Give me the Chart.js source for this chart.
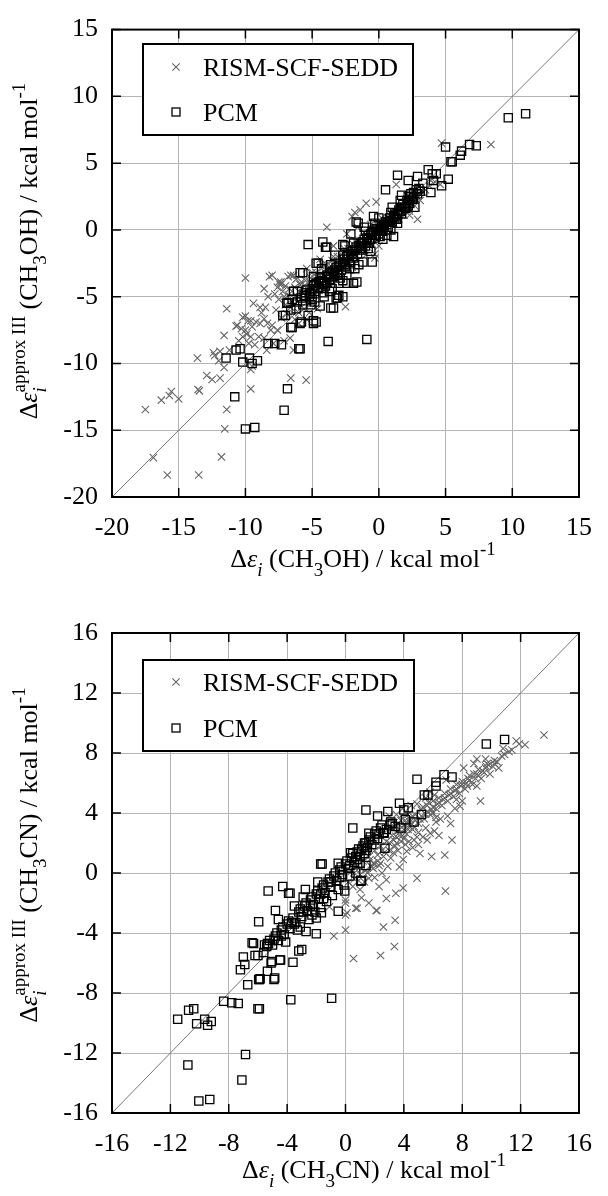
<!DOCTYPE html>
<html>
<head>
<meta charset="utf-8">
<script src="https://cdn.jsdelivr.net/npm/chart.js@4.4.1/dist/chart.umd.min.js"></script>
<style>
body { margin: 0; background: #fff; font-family: "Liberation Serif", serif; }
.box { width: 608px; height: 598px; position: relative; }
</style>
</head>
<body>
<div class="box"><canvas id="ch3oh" width="608" height="598"></canvas></div>
<div class="box"><canvas id="ch3cn" width="608" height="598"></canvas></div>
<script>
// Axis ranges / ticks
const ch3ohRange = [-20, 15];
const ch3ohStep = 5;
const ch3cnRange = [-16, 16];
const ch3cnStep = 4;

const seriesNames = ['RISM-SCF-SEDD', 'PCM'];

// CH3OH panel: [x, y] pairs
const ch3ohPcm = [
  [11.0,8.7],[9.7,8.4],[7.3,6.3],[6.8,6.4],[6.2,5.9],[6.1,5.6],[5.5,5.1],[5.4,5.1],[5.0,6.2],[5.2,3.8],
  [4.7,3.3],[4.3,4.2],[4.0,4.2],[3.7,4.5],[4.1,3.7],[3.9,2.8],[1.4,4.1],[0.5,3.0],[2.2,3.7],[2.9,4.0],
  [3.3,3.5],[2.4,2.5],[2.6,2.8],[2.8,3.0],[3.0,3.1],[2.5,2.3],[2.7,1.7],[1.7,2.6],[1.6,2.2],[1.0,1.7],
  [0.9,1.3],[1.4,0.5],[1.1,-0.5],[0.4,0.4],[0.1,-0.5],[-0.6,-0.7],[-1.55,0.5],[-1.7,0.6],[-0.5,-2.4],[-1.9,-4.0],
  [-5.3,-1.1],[-4.2,-0.9],[-3.9,-1.3],[-4.0,-1.3],[-2.7,-1.1],[-2.55,-1.2],[-4.7,-2.5],[-5.9,-3.2],[-6.4,-4.6],[-3.2,-5.1],
  [-2.7,-3.8],[-1.8,-2.9],[-0.9,-8.2],[-3.8,-8.35],[-3.6,-5.85],[-4.4,-5.7],[-3.1,-5.1],[-3.0,-4.9],[-6.9,-5.5],[-7.2,-6.4],
  [-6.6,-7.3],[-5.9,-7.0],[-5.8,-6.9],[-5.3,-6.4],[-4.9,-6.8],[-4.9,-7.0],[-6.1,-5.4],[-5.5,-5.3],[-5.2,-4.7],[-5.0,-5.2],
  [-7.3,-8.6],[-7.8,-8.5],[-8.3,-8.5],[-5.9,-8.9],[-6.0,-8.9],[-10.4,-8.9],[-10.7,-9.0],[-11.45,-9.6],[-10.2,-9.9],[-9.7,-9.6],
  [-9.5,-10.0],[-9.1,-9.8],[-10.8,-12.5],[-6.85,-11.9],[-7.1,-13.5],[-10.0,-14.9],[-9.3,-14.8],
  [-5.6,-4.9],[-5.4,-4.5],[-5.2,-5.0],[-5.0,-4.4],[-4.8,-4.6],[-4.7,-4.0],[-4.5,-4.3],[-4.4,-3.6],[-4.2,-3.9],[-4.0,-4.2],
  [-3.9,-3.4],[-3.7,-3.7],[-3.5,-3.1],[-3.4,-3.5],[-3.2,-2.8],[-3.1,-3.3],[-2.9,-2.5],[-2.8,-3.0],[-2.6,-2.2],[-2.5,-2.7],
  [-2.3,-1.9],[-2.2,-2.4],[-2.0,-1.6],[-1.9,-2.1],[-1.7,-1.3],[-1.6,-1.8],[-1.4,-1.0],[-1.3,-1.5],[-1.1,-0.7],[-1.0,-1.2],
  [-0.8,-0.4],[-0.7,-1.0],[-0.5,-0.2],[-0.3,-0.6],[-0.2,0.1],[0.0,-0.3],[0.2,0.3],[0.3,-0.1],[0.5,0.6],[0.7,0.2],
  [0.8,0.9],[1.0,0.6],[1.2,1.2],[1.3,0.8],[1.5,1.5],[1.7,1.2],[1.8,1.9],[2.0,1.6],[2.1,2.2],[2.3,2.0],
  [-3.0,-4.0],[-2.4,-3.4],[-1.2,-2.4],[-0.6,-1.6],[0.6,-0.4],[-2.1,-0.3],[-3.3,-1.9],[-4.3,-2.9],[-4.9,-3.5],[-5.7,-5.6],
  [-6.2,-5.9],[-6.5,-5.2],[-5.7,-3.2],[-6.1,-4.6],[-6.8,-5.45],[-6.6,-6.0],[-7.0,-6.4],[-6.5,-7.3],[-4.7,-6.9],[-3.4,-5.85],
  [-2.4,-4.0],[-1.65,-3.9],[-4.55,-2.5],[-2.7,-5.0],
  [-5.8,-5.1],[-5.5,-4.7],[-5.1,-4.8],[-4.9,-4.2],[-4.6,-4.4],[-4.3,-3.8],[-4.1,-4.0],[-3.8,-3.5],[-3.6,-3.3],[-3.3,-3.0],
  [-3.0,-2.7],[-2.7,-2.4],[-2.4,-2.0],[-2.1,-1.8],[-1.8,-1.5],[-1.5,-1.2],[-1.2,-0.9],[-0.9,-0.6],[-0.6,-0.3],[-0.4,-0.1],
  [-0.1,0.0],[0.1,0.1],[0.4,0.2],[0.6,0.4],[0.9,0.7],[1.1,1.0],[1.4,1.2],[1.6,1.4],[1.9,1.7],[2.2,2.5],
  [2.4,2.7],[2.6,2.4],[2.9,2.7],[3.1,2.9],[-3.5,-4.4],[-1.5,-2.6],[-0.8,-1.4],[0.3,-0.7],[0.9,0.0],[-4.1,-5.0],
  [-2.2,-2.9],[-0.4,1.0],[-1.1,0.2],[-2.7,-1.9],
  [-4.5,-3.9],[-3.9,-3.9],[-3.3,-3.2],[-2.6,-2.6],[-2.0,-2.0],[-1.4,-1.4],[-0.9,-0.9],[-0.2,-0.4],[0.2,-0.1],[0.7,0.6],
  [1.2,0.9],[1.7,1.7],[2.2,1.8],[-4.8,-5.4],[-4.2,-4.7],[-3.7,-4.6],[-5.1,-5.6],[-1.0,-0.1],[-0.3,0.5],[0.0,0.9],
  [-2.9,-3.6],[-3.6,-2.6],[-1.9,-1.0]
];
const ch3ohRism = [
  [-10.0,-3.6],[-8.0,-3.4],[-7.3,-4.05],[-7.35,-3.9],[-6.6,-3.4],[-3.9,0.2],[4.7,6.5],[8.4,6.4],[2.9,0.8],[2.3,1.1],
  [1.3,3.4],[-0.95,2.0],[-0.2,2.1],[-1.8,1.3],[-2.0,1.0],[-1.4,1.5],[-0.3,-1.8],[-0.3,-2.1],[-2.4,-2.4],[-4.2,-3.6],
  [-11.4,-5.9],[-11.6,-7.9],[-13.6,-9.6],[-12.4,-9.2],[-12.3,-9.4],[-12.9,-10.9],[-12.5,-11.2],[-11.9,-11.1],[-11.6,-10.3],[-13.55,-11.95],
  [-13.45,-12.05],[-15.55,-12.1],[-15.7,-12.4],[-16.3,-12.75],[-15.0,-12.65],[-17.5,-13.45],[-11.4,-13.45],[-11.55,-14.9],[-11.8,-17.0],[-16.9,-17.05],
  [-15.85,-18.35],[-13.5,-18.35],[-9.6,-11.9],[-9.6,-10.45],[-9.5,-10.2],[-6.6,-11.1],[-5.45,-11.25],[-2.5,-5.75],[-10.0,-6.45],[-9.8,-6.8],
  [-10.6,-7.15],[-10.3,-7.4],[-10.0,-7.5],[-9.5,-7.25],[-10.2,-8.0],[-9.6,-8.0],[-9.75,-8.5],[-8.9,-5.8],[-8.5,-5.8],[-8.6,-6.65],
  [-8.35,-7.0],[-8.9,-7.0],[-8.0,-7.15],[-8.1,-7.5],[-9.0,-8.0],[-8.6,-8.1],[-9.3,-8.6],[-6.65,-8.1],[-7.1,-8.3],[-7.9,-8.5],
  [-6.4,-9.0],[-11.9,-9.1],[-10.2,-6.55],[-10.7,-7.2],[-9.6,-6.8],[-8.2,-3.5],[-7.5,-3.9],[-6.8,-3.5],[-7.4,-4.1],[-6.4,-3.4],
  [-7.8,-4.8],[-7.5,-5.2],[-7.2,-4.6],[-7.0,-5.6],[-6.8,-4.9],[-6.5,-5.4],[-6.3,-4.3],[-6.1,-5.0],[-5.9,-4.1],[-5.7,-4.7],
  [-5.5,-3.8],[-5.3,-4.4],[-5.1,-3.6],[-4.9,-4.1],[-4.7,-3.2],[-4.5,-3.8],[-4.3,-2.9],[-4.1,-3.4],[-3.9,-2.6],[-3.7,-3.1],
  [-3.5,-2.3],[-3.3,-2.8],[-3.1,-2.0],[-2.9,-2.5],[-2.7,-1.7],[-2.5,-2.2],[-2.3,-1.4],[-2.1,-1.9],[-1.9,-1.1],[-1.7,-1.6],
  [-1.5,-0.8],[-1.3,-1.3],[-1.1,-0.5],[-0.9,-1.0],[-0.7,-0.2],[-0.5,-0.7],[-0.3,0.1],[-0.1,-0.4],[0.1,0.4],[0.3,-0.1],
  [0.5,0.7],[0.7,0.2],[0.9,1.0],[1.1,0.5],[1.3,1.3],[1.5,0.8],[1.7,1.6],[1.9,1.1],[2.1,1.9],[2.3,1.4],
  [2.5,2.2],[2.7,1.8],[2.9,2.5],[3.1,2.2],[3.3,2.8],[3.5,3.0],[3.8,3.3],[4.2,3.6],[-6.0,-6.2],[-5.0,-5.5],
  [-4.0,-4.5],[-3.0,-3.5],[-2.0,-2.8],[-1.0,-1.9],[0.0,-1.2],[-6.3,-6.7],[-5.6,-5.9],[-2.4,-0.3],[-1.6,0.2],[-3.4,-1.2],
  [-4.4,-2.2],[-5.4,-2.9],[-6.2,-3.7],[-7.0,-4.2],[-7.7,-6.0],[-8.3,-5.0],[-6.9,-6.3],[-5.4,-6.7],[-4.6,-5.9],[4.6,3.4],
  [3.9,3.7],[2.0,2.0],
  [-7.6,-4.3],[-7.1,-5.0],[-6.7,-4.4],[-6.4,-5.1],[-6.0,-4.6],[-5.6,-4.2],[-5.2,-3.9],[-4.8,-3.7],[-4.4,-3.4],[-4.0,-3.0],
  [-3.6,-2.7],[-3.2,-2.4],[-2.8,-2.1],[-2.4,-1.8],[-2.0,-1.4],[-1.6,-1.1],[-1.2,-0.8],[-0.8,-0.5],[-0.4,-0.1],[0.0,0.2],
  [0.4,0.6],[0.8,0.7],[1.2,1.0],[1.6,1.4],[2.0,1.7],[2.4,1.9],[2.8,2.3],[-8.8,-6.2],[-9.2,-6.9],[-9.9,-7.8],
  [-10.5,-8.3],[-11.2,-9.0],[-12.0,-9.8],[-8.4,-9.0],[-7.6,-7.5],[-6.0,-7.0],[-5.2,-6.2],
  [-5.8,-3.9],[-5.0,-3.2],[-4.2,-2.6],[-3.4,-2.0],[-2.6,-1.4],[-1.8,-0.8],[-1.0,-0.3],[-0.6,0.4],[0.2,0.9],[1.0,1.4],
  [-8.6,-4.4],[-9.4,-5.5],[-7.3,-6.6],[-6.6,-5.8],[-3.8,-4.0],[-2.2,-2.6]
];

// CH3CN panel
const ch3cnPcm = [
  [10.9,8.9],[9.65,8.6],[7.3,6.4],[6.75,6.55],[6.2,6.05],[6.2,5.8],[5.65,5.2],[5.4,5.2],[4.9,6.25],[5.2,3.9],
  [4.7,3.4],[4.3,4.35],[4.0,4.2],[3.7,4.65],[2.9,4.1],[2.2,3.8],[1.4,4.2],[0.5,3.0],[4.1,3.55],[3.8,3.0],
  [3.05,3.2],[3.2,3.3],[2.65,2.65],[2.0,2.2],[2.7,1.65],[1.6,2.65],[1.4,2.0],[1.1,1.6],[1.3,1.3],[0.7,1.1],
  [1.4,0.5],[1.0,0.65],[1.1,-0.5],[-1.6,0.6],[-1.7,0.6],[-0.5,0.65],[0.35,1.35],[-4.3,-0.9],[-5.3,-1.2],[-3.8,-1.35],
  [-2.75,-1.1],[-3.9,-1.35],[-0.95,-8.35],[-3.75,-8.45],[-3.6,-5.95],[-4.45,-5.8],[-3.0,-5.1],[-3.2,-5.2],[-4.85,-7.0],[-4.9,-7.1],
  [-5.35,-6.55],[-5.85,-7.05],[-5.95,-7.1],[-5.1,-6.0],[-5.05,-5.9],[-5.55,-4.8],[-5.35,-4.7],[-6.0,-5.5],[-6.2,-5.5],[-6.4,-4.65],
  [-6.7,-7.45],[-7.0,-5.6],[-6.9,-6.1],[-7.2,-6.45],[-5.95,-3.25],[-4.8,-2.5],[-2.0,-4.05],[-2.7,-3.9],[-0.5,-2.55],[-1.65,-2.65],
  [-2.0,-3.0],[-0.05,-1.2],[1.05,-0.55],[-8.35,-8.55],[-7.8,-8.65],[-7.35,-8.7],[-5.9,-9.05],[-6.0,-9.05],[-10.4,-9.05],[-10.75,-9.15],
  [-11.5,-9.75],[-9.65,-9.75],[-10.2,-10.05],[-9.2,-9.9],[-9.45,-10.15],[-6.85,-12.1],[-10.8,-12.8],[-7.1,-13.8],[-10.05,-15.2],[-9.3,-15.1],
  [-5.4,-4.9],[-5.2,-4.5],[-5.0,-4.8],[-4.8,-4.2],[-4.6,-4.5],[-4.4,-3.8],[-4.2,-4.1],[-4.0,-3.4],[-3.8,-3.7],[-3.6,-3.0],
  [-3.4,-3.3],[-3.2,-2.6],[-3.0,-2.9],[-2.8,-2.2],[-2.6,-2.5],[-2.4,-1.8],[-2.2,-2.1],[-2.0,-1.4],[-1.8,-1.7],[-1.6,-1.0],
  [-1.4,-1.3],[-1.2,-0.6],[-1.0,-0.9],[-0.8,-0.2],[-0.6,-0.5],[-0.4,0.2],[-0.2,-0.1],[0.0,0.6],[0.2,0.3],[0.4,1.0],
  [0.6,0.7],[0.8,1.4],[1.0,1.1],[1.2,1.8],[1.4,1.5],[1.6,2.2],[1.8,1.9],[2.0,2.6],[2.2,2.3],[2.4,3.0],
  [2.6,2.7],[-4.1,-4.6],[-3.3,-3.8],[-2.5,-3.1],[-1.7,-2.3],[-0.9,-1.5],[-0.1,-0.8],[0.7,0.0],[-2.9,-1.6],[-1.9,-0.6],
  [-4.6,-3.1],[-3.5,-2.2],[-6.3,-4.7],[-5.9,-7.1],[-4.5,-5.8],
  [-5.6,-5.3],[-5.3,-4.7],[-4.9,-4.4],[-4.7,-4.0],[-4.3,-3.6],[-3.9,-3.2],[-3.7,-3.3],[-3.1,-2.4],[-2.7,-2.0],[-2.3,-1.6],
  [-1.9,-1.2],[-1.5,-0.8],[-1.1,-0.4],[-0.7,0.0],[-0.3,0.4],[0.1,0.8],[0.5,1.3],[0.9,1.6],[1.3,2.0],[1.7,2.4],
  [2.1,2.8],[2.5,3.2],[2.8,2.9],[3.1,3.4],[3.4,3.1],[-2.1,-2.6],[-1.3,-1.9],[-0.5,-1.1],[0.3,-0.2],
  [-4.4,-4.2],[-3.5,-3.4],[-2.9,-2.6],[-2.4,-2.2],[-1.7,-1.4],[-1.0,-0.6],[-0.4,-0.3],[0.3,0.5],[0.8,0.9],[1.5,1.7],
  [2.3,2.6],[-3.1,-3.6],[-2.3,-2.8],[-1.5,-1.7]
];
const ch3cnRism = [
  [13.6,9.2],[12.3,8.55],[11.7,8.8],[11.2,8.1],[10.7,7.8],[10.2,7.3],[9.65,7.1],[9.5,6.7],[9.1,6.9],[8.8,6.6],
  [8.5,6.5],[9.25,4.8],[9.0,5.8],[8.35,5.8],[7.85,4.45],[7.6,4.9],[7.2,3.3],[7.3,2.2],[6.8,1.2],[6.0,4.0],
  [6.2,3.7],[5.8,2.65],[5.6,2.2],[5.0,2.7],[5.1,1.3],[5.9,1.1],[4.7,2.2],[4.9,-0.35],[4.35,2.1],[4.2,1.45],
  [3.95,0.9],[3.7,2.9],[3.45,2.45],[3.3,1.35],[2.9,0.45],[2.4,0.65],[1.9,0.65],[1.75,0.45],[2.5,0.0],[2.8,-0.45],
  [2.3,-0.9],[1.6,-0.35],[1.0,-1.1],[6.85,-1.2],[3.95,-1.0],[3.45,-1.35],[2.8,-1.7],[2.15,-2.5],[1.6,-2.0],[1.1,-1.65],
  [0.7,-2.35],[3.4,-3.15],[2.6,-3.6],[0.0,-3.8],[-0.8,-4.2],[3.35,-4.9],[2.4,-5.5],[0.55,-5.7],[0.0,-2.0],[0.0,-1.8],
  [0.1,-2.65],[-1.1,-2.25],[0.0,-2.8],[0.8,-2.35],[2.1,-2.5],
  [0.2,-0.6],[0.4,0.1],[0.6,-0.4],[0.8,0.5],[1.0,-0.1],[1.2,0.8],[1.4,0.2],[1.6,1.1],[1.8,0.4],[2.0,1.5],
  [2.2,0.8],[2.4,1.8],[2.6,1.1],[2.8,2.1],[3.0,1.5],[3.2,2.5],[3.4,1.8],[3.6,2.8],[3.8,2.1],[4.0,3.2],
  [4.2,2.6],[4.4,3.6],[4.6,2.9],[4.8,3.9],[5.0,3.3],[5.2,4.2],[5.4,3.6],[5.6,4.5],[5.8,3.9],[6.0,4.8],
  [6.2,4.3],[6.4,5.0],[6.6,4.5],[6.8,5.3],[7.0,4.8],[7.2,5.6],[7.4,5.1],[7.6,5.9],[7.8,5.3],[8.0,6.1],
  [8.2,5.6],[8.4,6.3],[8.7,5.9],[9.0,6.6],[9.3,6.3],[9.6,7.0],[9.9,6.6],[10.2,7.5],[10.5,7.0],[10.9,7.9],
  [11.4,8.2],[3.0,3.8],[3.5,3.9],[4.5,4.5],[5.5,5.0],[4.1,1.9],[5.3,2.4],[6.5,3.6],[7.5,4.3],[2.0,-0.3],
  [1.3,-0.6],[3.7,0.4],[4.6,1.7],[6.1,2.8],[3.9,4.3],[4.3,3.9],[4.9,4.6],[5.8,5.4],[6.9,6.2],[8.1,7.0],
  [9.0,7.6],[8.8,7.3],[9.6,7.6],
  [0.5,-0.9],[0.9,-0.5],[1.5,0.0],[1.9,0.3],[2.3,0.5],[2.7,1.4],[3.1,1.0],[3.5,2.0],[3.9,2.5],[4.1,3.5],
  [4.3,2.9],[4.7,3.1],[5.1,3.6],[5.5,3.9],[5.9,4.2],[6.3,4.6],[6.7,4.9],[7.1,5.2],[7.5,5.5],[7.9,5.8],
  [8.3,6.0],[8.9,6.3],[9.4,6.8],[9.8,7.2],[10.4,7.4],[10.8,8.3],[11.9,8.6],[4.4,3.4],[4.5,3.3],[4.2,3.3],
  [5.7,4.7],[6.1,5.2],[3.6,3.3],[4.0,2.3],[5.0,1.9],[6.4,2.5],[8.0,4.8],[7.0,3.8],
  [2.0,0.6],[2.5,1.5],[3.0,2.0],[3.3,2.2],[3.7,2.5],[4.0,2.9],[4.4,3.1],[4.8,3.5],[5.2,3.8],[5.6,4.1],
  [6.0,4.4],[6.4,4.7],[6.8,5.0],[7.2,5.3],[7.6,5.6],[8.0,5.9],[8.5,6.2],[9.1,6.5],[9.7,7.3],[10.1,7.1],
  [3.2,3.0],[3.8,3.5],[4.6,3.8],[5.3,4.4],[2.2,1.2],[1.7,0.9],[1.1,0.3],[0.6,0.0],[4.9,2.4],[5.5,3.0],
  [6.2,3.4],[3.6,1.5]
];

const SERIF = '"Liberation Serif", "Times New Roman", serif';
const BASE = 26;

// rich text: segments with italic / sub / sup, "stack" puts a segment over the previous one
function segFont(s) {
  const size = (s.sub || s.sup) ? 19 : BASE;
  return (s.it ? 'italic ' : '') + size + 'px ' + SERIF;
}
function drawRich(ctx, segs, x, y, rot) {
  ctx.save();
  ctx.translate(x, y);
  ctx.rotate(rot);
  ctx.fillStyle = '#000';
  ctx.textBaseline = 'alphabetic';
  ctx.textAlign = 'left';
  let pos = 0, prevStart = 0;
  const placed = segs.map(s => {
    ctx.font = segFont(s);
    const w = ctx.measureText(s.t).width;
    let start;
    if (s.stack) { start = prevStart; pos = Math.max(pos, start + w); }
    else { start = pos; pos += w; }
    prevStart = start;
    return { s, start };
  });
  placed.forEach(({ s, start }) => {
    ctx.font = segFont(s);
    const dy = s.sub ? 9 : s.sup ? -12 : 0;
    ctx.fillText(s.t, start - pos / 2, dy);
  });
  ctx.restore();
}

function drawCross(ctx, x, y, h) {
  ctx.beginPath();
  ctx.moveTo(x - h, y - h); ctx.lineTo(x + h, y + h);
  ctx.moveTo(x - h, y + h); ctx.lineTo(x + h, y - h);
  ctx.stroke();
}

// frame with mirrored inner ticks, legend box and axis titles
const decorPlugin = {
  id: 'decor',
  afterDatasetsDraw(chart, args, o) {
    const { ctx, chartArea: a, scales: { x, y } } = chart;
    ctx.save();
    ctx.strokeStyle = '#000';
    ctx.lineWidth = 1.5;
    ctx.beginPath();
    x.ticks.forEach(t => {
      const px = x.getPixelForValue(t.value);
      ctx.moveTo(px, a.bottom); ctx.lineTo(px, a.bottom - 9);
      ctx.moveTo(px, a.top); ctx.lineTo(px, a.top + 9);
    });
    y.ticks.forEach(t => {
      const py = y.getPixelForValue(t.value);
      ctx.moveTo(a.left, py); ctx.lineTo(a.left + 9, py);
      ctx.moveTo(a.right, py); ctx.lineTo(a.right - 9, py);
    });
    ctx.stroke();
    ctx.lineWidth = 2;
    ctx.strokeRect(a.left, a.top, a.right - a.left, a.bottom - a.top);

    // legend
    const L = o.legend;
    ctx.fillStyle = '#fff';
    ctx.fillRect(L.x, L.y, L.w, L.h);
    ctx.strokeRect(L.x, L.y, L.w, L.h);
    ctx.fillStyle = '#000';
    ctx.font = BASE + 'px ' + SERIF;
    ctx.textBaseline = 'alphabetic';
    ctx.textAlign = 'left';
    ctx.strokeStyle = '#666';
    ctx.lineWidth = 1.1;
    drawCross(ctx, L.x + 33, L.y + L.row1, 3.7);
    ctx.strokeStyle = '#000';
    ctx.lineWidth = 1.3;
    ctx.strokeRect(L.x + 29, L.y + L.row2 - 4, 8, 8);
    ctx.fillText(seriesNames[0], L.x + 60, L.y + L.row1 + 9);
    ctx.fillText(seriesNames[1], L.x + 60, L.y + L.row2 + 9);

    drawRich(ctx, o.xTitle, o.xTitleAt[0], o.xTitleAt[1], 0);
    drawRich(ctx, o.yTitle, o.yTitleAt[0], o.yTitleAt[1], -Math.PI / 2);
    ctx.restore();
  }
};

function makeChart(id, pcm, rism, range, step, pad, xHeight, decor) {
  const diag = [{ x: range[0], y: range[0] }, { x: range[1], y: range[1] }];
  const tickFont = { family: SERIF, size: BASE };
  return new Chart(document.getElementById(id), {
    type: 'scatter',
    data: {
      datasets: [
        {
          label: seriesNames[1],
          data: pcm.map(p => ({ x: p[0], y: p[1] })),
          pointStyle: 'rect',
          pointRadius: 5.8,
          borderColor: '#000',
          backgroundColor: 'rgba(0,0,0,0)',
          borderWidth: 1.3
        },
        {
          label: seriesNames[0],
          data: rism.map(p => ({ x: p[0], y: p[1] })),
          pointStyle: 'crossRot',
          pointRadius: 5.2,
          borderColor: '#666',
          backgroundColor: 'rgba(0,0,0,0)',
          borderWidth: 1.1
        },
        {
          type: 'line',
          data: diag,
          borderColor: '#777',
          borderWidth: 1,
          pointRadius: 0,
          fill: false
        }
      ]
    },
    options: {
      responsive: false,
      animation: false,
      events: [],
      layout: { padding: pad },
      plugins: {
        legend: { display: false },
        tooltip: { enabled: false },
        decor: decor
      },
      scales: {
        x: {
          type: 'linear',
          min: range[0], max: range[1],
          ticks: { stepSize: step, font: tickFont, color: '#000', padding: 16, maxRotation: 0 },
          grid: { color: '#b4b4b4', lineWidth: 1, drawTicks: false },
          border: { display: false },
          afterFit: s => { s.height = xHeight; }
        },
        y: {
          type: 'linear',
          min: range[0], max: range[1],
          ticks: { stepSize: step, font: tickFont, color: '#000', padding: 14 },
          grid: { color: '#b4b4b4', lineWidth: 1, drawTicks: false },
          border: { display: false },
          afterFit: s => { s.width = 112; }
        }
      }
    },
    plugins: [decorPlugin]
  });
}

const ch3ohX = [{ t: 'Δ' }, { t: 'ε', it: true }, { t: 'i', it: true, sub: true }, { t: ' (CH' }, { t: '3', sub: true }, { t: 'OH) / kcal mol' }, { t: '-1', sup: true }];
const ch3ohY = [{ t: 'Δ' }, { t: 'ε', it: true }, { t: 'i', it: true, sub: true }, { t: 'approx III', sup: true, stack: true }, { t: ' (CH' }, { t: '3', sub: true }, { t: 'OH) / kcal mol' }, { t: '-1', sup: true }];
const ch3cnX = [{ t: 'Δ' }, { t: 'ε', it: true }, { t: 'i', it: true, sub: true }, { t: ' (CH' }, { t: '3', sub: true }, { t: 'CN) / kcal mol' }, { t: '-1', sup: true }];
const ch3cnY = [{ t: 'Δ' }, { t: 'ε', it: true }, { t: 'i', it: true, sub: true }, { t: 'approx III', sup: true, stack: true }, { t: ' (CH' }, { t: '3', sub: true }, { t: 'CN) / kcal mol' }, { t: '-1', sup: true }];

function drawAll() {
  makeChart('ch3oh', ch3ohPcm, ch3ohRism, ch3ohRange, ch3ohStep,
    { top: 19, right: 17, left: 0, bottom: 0 }, 101,
    { legend: { x: 143, y: 44, w: 270, h: 91, row1: 23, row2: 68 },
      xTitle: ch3ohX, xTitleAt: [363, 567], yTitle: ch3ohY, yTitleAt: [37, 251] });

  makeChart('ch3cn', ch3cnPcm, ch3cnRism, ch3cnRange, ch3cnStep,
    { top: 35, right: 17, left: 0, bottom: 0 }, 83,
    { legend: { x: 143, y: 62, w: 271, h: 91, row1: 22, row2: 68 },
      xTitle: ch3cnX, xTitleAt: [374, 580], yTitle: ch3cnY, yTitleAt: [37, 257] });
}

Promise.all([
  document.fonts.load('26px "Liberation Serif"'),
  document.fonts.load('italic 26px "Liberation Serif"'),
  document.fonts.load('19px "Liberation Serif"')
]).then(drawAll, drawAll);
</script>
</body>
</html>
